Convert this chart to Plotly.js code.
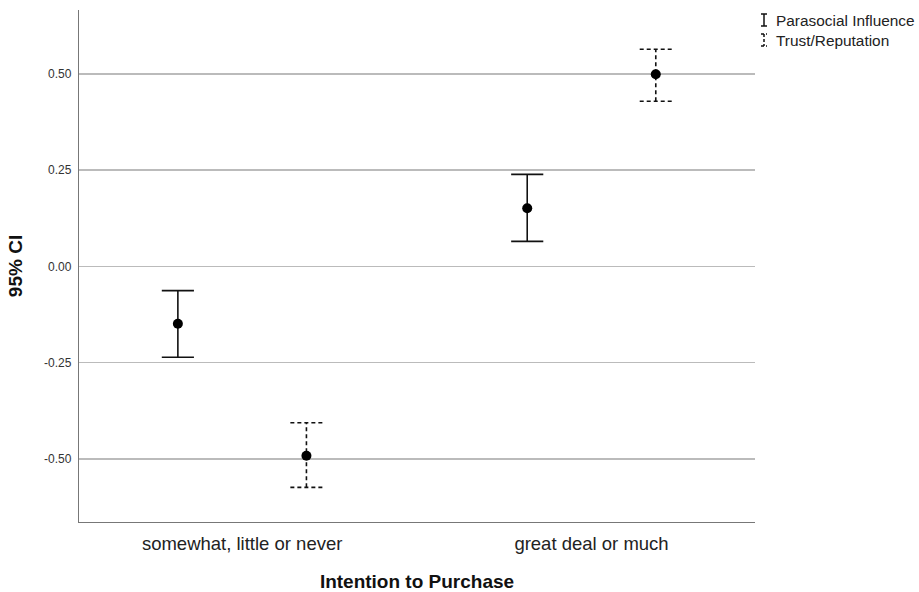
<!DOCTYPE html>
<html>
<head>
<meta charset="utf-8">
<script src="https://cdn.plot.ly/plotly-3.0.1.min.js"></script>
<style>html,body{margin:0;padding:0;background:#fff;}#chart{width:919px;height:592px;}</style>
</head>
<body>
<div id="chart"></div>
<script>
// ---- data ----
const categories = ["somewhat, little or never", "great deal or much"];
const seriesNames = ["Parasocial Influence", "Trust/Reputation"];
const parasocialMean = [-0.149, 0.151];
const parasocialLower = [-0.236, 0.065];
const parasocialUpper = [-0.063, 0.239];
const trustMean = [-0.492, 0.499];
const trustLower = [-0.574, 0.429];
const trustUpper = [-0.406, 0.564];
const yTickVals = [-0.5, -0.25, 0, 0.25, 0.5];
const yTickText = ["-0.50", "-0.25", "0.00", "0.25", "0.50"];

// ---- layout helpers (positions/styles) ----
const groupOffset = 0.184;   // dodge within category, in category units
const capHalf = 0.046;       // half width of error bar caps
const catIdx = categories.map((c, i) => i);

function errorBarTrace(offset, lower, upper, dash) {
  const xs = [], ys = [];
  catIdx.forEach(i => {
    const x = i + offset;
    xs.push(x, x, null); ys.push(lower[i], upper[i], null);
    xs.push(x - capHalf, x + capHalf, null); ys.push(upper[i], upper[i], null);
    xs.push(x - capHalf, x + capHalf, null); ys.push(lower[i], lower[i], null);
  });
  return {x: xs, y: ys, type: 'scatter', mode: 'lines', hoverinfo: 'skip',
    line: {color: '#111', width: 1.6, dash: dash}, showlegend: false};
}
function pointTrace(offset, mean, name) {
  return {x: catIdx.map(i => i + offset), y: mean, type: 'scatter', mode: 'markers', name: name,
    marker: {color: '#000', size: 10}, showlegend: false};
}

const traces = [
  errorBarTrace(-groupOffset, parasocialLower, parasocialUpper, 'solid'),
  errorBarTrace(groupOffset, trustLower, trustUpper, '4px,3px'),
  pointTrace(-groupOffset, parasocialMean, seriesNames[0]),
  pointTrace(groupOffset, trustMean, seriesNames[1])
];

// legend drawn manually (paper coords)
const L = 79, R = 755, T = 10, B = 522;
const px = v => (v - L) / (R - L);
const py = v => (B - v) / (B - T);
function icon(cx, cy, dash) {
  const h = 6, w = 3;
  const ln = {color: '#111', width: 1.5, dash: dash};
  return [
    {type: 'line', xref: 'paper', yref: 'paper', x0: px(cx), x1: px(cx), y0: py(cy - h), y1: py(cy + h), line: ln},
    {type: 'line', xref: 'paper', yref: 'paper', x0: px(cx - w), x1: px(cx + w), y0: py(cy - h), y1: py(cy - h), line: ln},
    {type: 'line', xref: 'paper', yref: 'paper', x0: px(cx - w), x1: px(cx + w), y0: py(cy + h), y1: py(cy + h), line: ln}
  ];
}
const shapes = [].concat(icon(764, 20, 'solid'), icon(764, 40, '3px,2px'));
const annotations = seriesNames.map((n, i) => ({
  text: n, xref: 'paper', yref: 'paper', x: px(774), y: py(20 + 20 * i),
  xanchor: 'left', yanchor: 'middle', showarrow: false,
  font: {family: 'Liberation Sans, Arial, sans-serif', size: 15.4, color: '#222'}
}));

const layout = {
  width: 919, height: 592,
  margin: {l: L, r: 919 - R, t: T, b: 592 - B},
  paper_bgcolor: '#fff', plot_bgcolor: '#fff',
  font: {family: 'Liberation Sans, Arial, sans-serif', color: '#222'},
  xaxis: {
    range: [-0.467, 1.468], tickvals: catIdx, ticktext: categories,
    showgrid: false, zeroline: false, showline: true, linecolor: '#777', linewidth: 1.2,
    ticks: '', tickfont: {size: 18.5, color: '#222'}, ticklabelstandoff: 5,
    title: {text: '<b>Intention to Purchase</b>', font: {size: 19, color: '#111'}, standoff: 22}
  },
  yaxis: {
    range: [-0.664, 0.666], tickvals: yTickVals, ticktext: yTickText,
    showgrid: true, gridcolor: '#bbbbbb', gridwidth: 1.5, zeroline: false,
    showline: true, linecolor: '#777', linewidth: 1.2,
    ticks: '', tickfont: {size: 12, color: '#333'}, ticklabelstandoff: 4,
    title: {text: '<b>95% CI</b>', font: {size: 19, color: '#111'}, standoff: 16}
  },
  shapes: shapes,
  annotations: annotations,
  showlegend: false
};

Plotly.newPlot('chart', traces, layout, {displayModeBar: false, staticPlot: true});
</script>
</body>
</html>
